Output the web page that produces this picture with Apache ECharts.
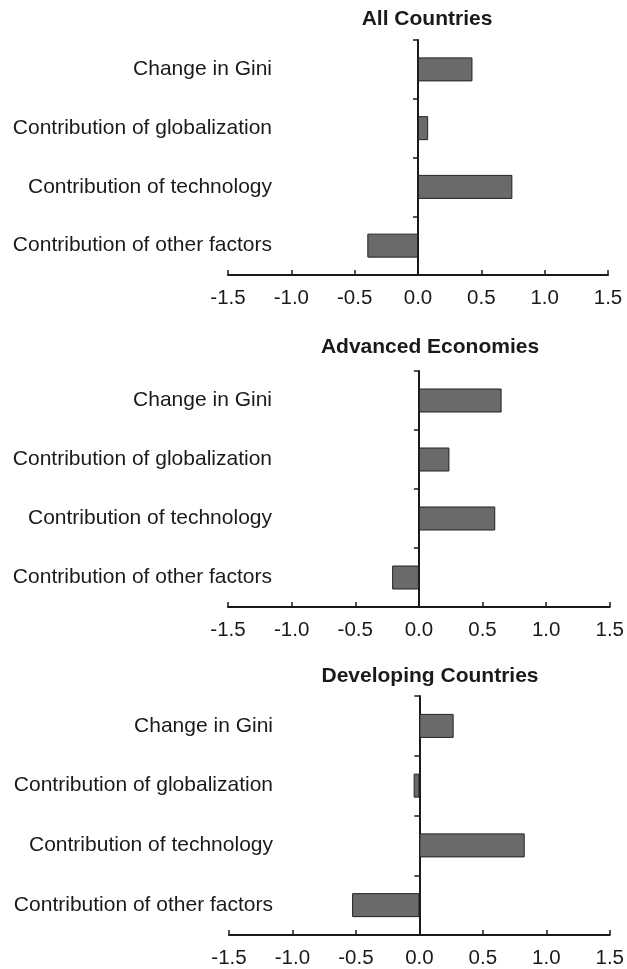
<!DOCTYPE html>
<html>
<head>
<meta charset="utf-8">
<script src="https://cdn.jsdelivr.net/npm/echarts@6/dist/echarts.min.js"></script>
<style>
  html, body { margin: 0; padding: 0; background: #fff; }
  #chart { width: 627px; height: 969px; }
</style>
</head>
<body>
<div id="chart"></div>
<script>
// 数据
var categories = ['Change in Gini', 'Contribution of globalization', 'Contribution of technology', 'Contribution of other factors'];
var panelTitles = ['All Countries', 'Advanced Economies', 'Developing Countries'];
var allCountries = [0.43, 0.08, 0.745, -0.40];
var advancedEconomies = [0.65, 0.24, 0.60, -0.21];
var developingCountries = [0.27, -0.045, 0.83, -0.53];
var xTicks = { min: -1.5, max: 1.5, step: 0.5 };

var panelData = [allCountries, advancedEconomies, developingCountries];
// 布局
var grids = [
    { left: 228, right: 19, top: 40, height: 235 },
    { left: 228, right: 16, top: 371, height: 236 },
    { left: 229, right: 15, top: 696, height: 239 }
];
var titleTops = [4, 332, 661];
var titleLefts = [422, 425, 425];

var font = 'Liberation Sans, Arial, Helvetica, sans-serif';
var ink = '#1a1a1a';

var chart = echarts.init(document.getElementById('chart'), null, { renderer: 'canvas' });

var option = {
    backgroundColor: '#fff',
    animation: false,
    title: [],
    grid: [],
    xAxis: [],
    yAxis: [],
    series: []
};

for (var i = 0; i < 3; i++) {
    option.title.push({
        text: panelTitles[i],
        left: titleLefts[i],
        top: titleTops[i],
        textAlign: 'center',
        textStyle: { fontFamily: font, fontSize: 21, fontWeight: 'bold', color: ink }
    });
    option.grid.push(grids[i]);
    option.xAxis.push({
        type: 'value',
        gridIndex: i,
        min: xTicks.min,
        max: xTicks.max,
        interval: xTicks.step,
        axisLine: { show: true, onZero: false, lineStyle: { color: ink, width: 2 } },
        axisTick: { show: true, inside: true, length: 5, lineStyle: { color: ink, width: 1.5 } },
        splitLine: { show: false },
        axisLabel: {
            margin: 13,
            fontFamily: font,
            fontSize: 20.5,
            color: ink,
            formatter: function (v) { return v.toFixed(1); }
        }
    });
    // 零线 + 刻度
    option.yAxis.push({
        type: 'category',
        gridIndex: i,
        data: categories,
        inverse: true,
        axisLine: { show: true, onZero: true, lineStyle: { color: ink, width: 2 } },
        axisTick: { show: true, inside: false, length: 5, lineStyle: { color: ink, width: 1.5 } },
        axisLabel: { show: false },
        splitLine: { show: false }
    });
    // 类目标签
    option.yAxis.push({
        type: 'category',
        gridIndex: i,
        data: categories,
        inverse: true,
        position: 'left',
        axisLine: { show: false, onZero: false },
        axisTick: { show: false },
        axisLabel: {
            margin: -44,
            fontFamily: font,
            fontSize: 21,
            color: ink
        },
        splitLine: { show: false }
    });
    option.series.push({
        type: 'bar',
        xAxisIndex: i,
        yAxisIndex: i * 2,
        data: panelData[i],
        barWidth: 24,
        itemStyle: { color: '#6a6a6a', borderColor: '#222', borderWidth: 1 }
    });
}

chart.setOption(option);
</script>
</body>
</html>
